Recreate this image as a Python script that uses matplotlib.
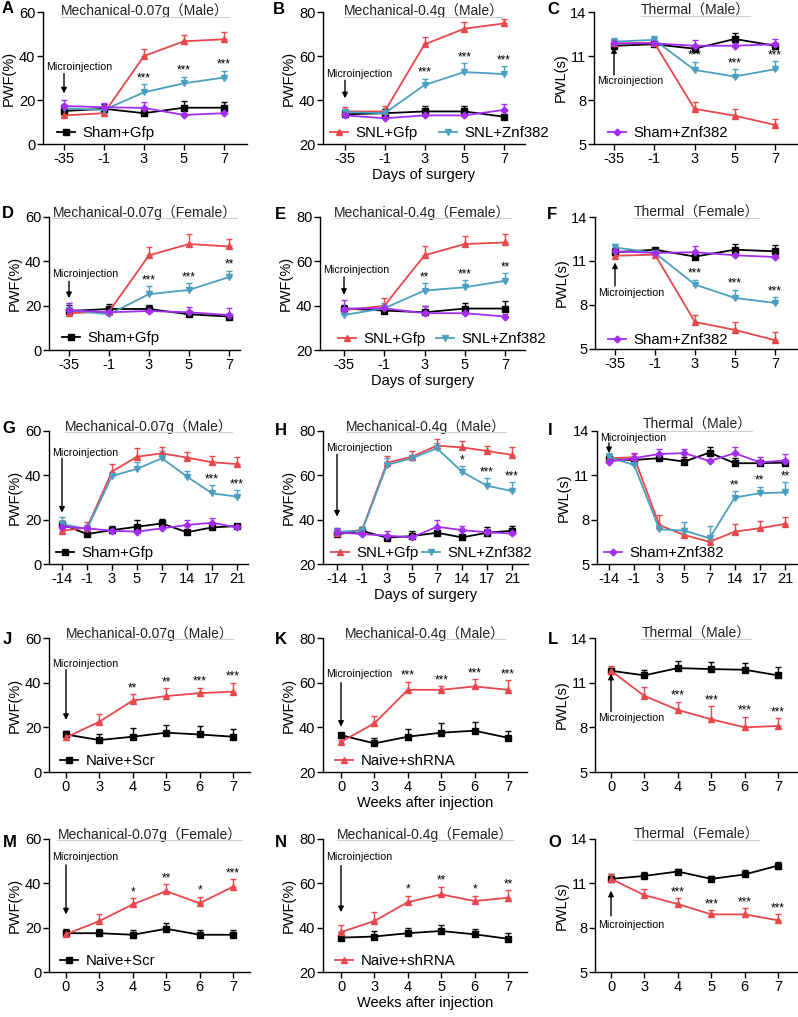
import matplotlib
matplotlib.use('Agg')
import numpy as np
import matplotlib.pyplot as plt
from matplotlib.lines import Line2D
from matplotlib.transforms import blended_transform_factory

plt.rcParams['font.family'] = ['Liberation Sans', 'Noto Sans CJK SC', 'DejaVu Sans']

# === データ ===
days_short = ['-35', '-1', '3', '5', '7']
days_long = ['-14', '-1', '3', '5', '7', '14', '17', '21']
weeks = ['0', '3', '4', '5', '6', '7']

# A  Mechanical-0.07g (Male)
A_sham_gfp = [15.0, 16.0, 14.0, 16.5, 16.5]
A_sham_gfp_err = [1.5, 2.0, 1.0, 3.2, 2.7]
A_snl_gfp = [13.0, 14.0, 40.0, 46.7, 47.6]
A_snl_gfp_err = [1.0, 1.0, 3.0, 3.0, 3.3]
A_snl_znf = [16.2, 15.5, 23.5, 27.6, 30.2]
A_snl_znf_err = [2.0, 2.0, 3.8, 3.0, 3.2]
A_sham_znf = [17.3, 16.7, 16.4, 13.2, 14.0]
A_sham_znf_err = [2.7, 2.0, 2.9, 1.0, 1.0]
A_stars = ['', '', '***', '***', '***']

# B  Mechanical-0.4g (Male)
B_sham_gfp = [33.5, 34.0, 34.8, 34.8, 32.4]
B_sham_gfp_err = [2.0, 2.0, 2.4, 2.7, 2.5]
B_snl_gfp = [34.8, 34.8, 65.3, 72.4, 74.8]
B_snl_gfp_err = [2.0, 2.7, 3.5, 2.9, 2.0]
B_snl_znf = [34.5, 34.0, 46.8, 52.7, 51.8]
B_snl_znf_err = [1.5, 2.4, 2.9, 4.2, 3.6]
B_sham_znf = [33.0, 31.7, 33.0, 33.0, 35.5]
B_sham_znf_err = [1.0, 1.0, 1.5, 1.5, 2.7]
B_stars = ['', '', '***', '***', '***']

# C  Thermal (Male)
C_sham_gfp = [11.7, 11.8, 11.5, 12.16, 11.7]
C_sham_gfp_err = [0.2, 0.15, 0.2, 0.43, 0.2]
C_snl_gfp = [11.86, 11.9, 7.4, 6.93, 6.3]
C_snl_gfp_err = [0.15, 0.15, 0.48, 0.48, 0.39]
C_snl_znf = [11.98, 12.1, 10.05, 9.6, 10.1]
C_snl_znf_err = [0.27, 0.27, 0.57, 0.5, 0.57]
C_sham_znf = [11.86, 11.86, 11.7, 11.7, 11.8]
C_sham_znf_err = [0.2, 0.15, 0.4, 0.2, 0.38]
C_stars = ['', '', '***', '***', '***']

# D  Mechanical-0.07g (Female)
D_sham_gfp = [17.6, 18.5, 18.5, 16.1, 15.1]
D_sham_gfp_err = [2.5, 2.4, 1.8, 1.0, 1.0]
D_snl_gfp = [16.6, 17.3, 42.7, 47.8, 46.7]
D_snl_gfp_err = [1.5, 1.5, 3.6, 4.5, 3.3]
D_snl_znf = [18.0, 16.1, 25.2, 27.1, 32.9]
D_snl_znf_err = [3.0, 1.0, 3.5, 3.0, 2.9]
D_sham_znf = [18.0, 17.0, 17.6, 17.0, 15.8]
D_sham_znf_err = [3.0, 2.0, 1.5, 2.6, 3.0]
D_stars = ['', '', '***', '***', '**']

# E  Mechanical-0.4g (Female)
E_sham_gfp = [38.7, 37.8, 37.0, 38.7, 38.7]
E_sham_gfp_err = [1.5, 1.5, 2.9, 2.4, 3.2]
E_snl_gfp = [38.0, 39.9, 62.7, 67.8, 68.5]
E_snl_gfp_err = [1.5, 3.5, 4.0, 3.5, 3.8]
E_snl_znf = [35.8, 38.8, 46.8, 48.3, 51.2]
E_snl_znf_err = [1.5, 2.5, 3.3, 3.3, 3.5]
E_sham_znf = [38.7, 38.8, 36.6, 36.6, 35.1]
E_sham_znf_err = [4.0, 1.5, 3.3, 1.5, 1.0]
E_stars = ['', '', '**', '***', '**']

# F  Thermal (Female)
F_sham_gfp = [11.6, 11.77, 11.3, 11.77, 11.66]
F_sham_gfp_err = [0.3, 0.15, 0.15, 0.4, 0.4]
F_snl_gfp = [11.36, 11.43, 6.84, 6.3, 5.6]
F_snl_gfp_err = [0.15, 0.15, 0.5, 0.57, 0.55]
F_snl_znf = [11.93, 11.55, 9.39, 8.48, 8.14]
F_snl_znf_err = [0.2, 0.15, 0.34, 0.57, 0.39]
F_sham_znf = [11.66, 11.55, 11.6, 11.39, 11.27]
F_sham_znf_err = [0.15, 0.15, 0.43, 0.15, 0.15]
F_stars = ['', '', '***', '***', '***']

# G  Mechanical-0.07g (Male), long course
G_sham_gfp = [18.0, 13.5, 15.3, 16.8, 18.3, 14.3, 16.5, 17.1]
G_sham_gfp_err = [1.5, 1.0, 1.8, 3.0, 1.8, 1.0, 1.5, 1.0]
G_snl_gfp = [15.0, 16.4, 41.7, 48.4, 49.9, 48.0, 45.9, 45.1]
G_snl_gfp_err = [1.0, 2.7, 3.3, 3.8, 3.0, 2.4, 3.0, 3.0]
G_snl_znf = [18.0, 15.8, 39.7, 42.9, 47.7, 39.4, 31.9, 30.4]
G_snl_znf_err = [3.0, 1.5, 1.0, 3.0, 3.3, 2.6, 3.8, 2.9]
G_sham_znf = [16.8, 16.1, 15.0, 14.6, 16.1, 17.6, 18.6, 16.5]
G_sham_znf_err = [1.5, 1.5, 1.5, 1.5, 1.5, 2.3, 2.0, 1.5]
G_stars = ['', '', '', '', '', '', '***', '***']

# H  Mechanical-0.4g (Male), long course
H_sham_gfp = [33.5, 34.9, 31.9, 32.6, 34.1, 32.0, 34.1, 35.0]
H_sham_gfp_err = [1.0, 2.0, 1.0, 2.3, 1.0, 1.0, 2.4, 2.3]
H_snl_gfp = [34.1, 35.3, 65.7, 68.4, 73.4, 72.6, 71.0, 69.2]
H_snl_gfp_err = [1.5, 1.5, 3.2, 2.6, 2.9, 2.9, 2.4, 3.8]
H_snl_znf = [34.6, 34.9, 64.7, 67.7, 72.2, 61.6, 55.3, 52.9]
H_snl_znf_err = [1.5, 2.0, 3.0, 1.5, 2.6, 2.7, 3.6, 3.9]
H_sham_znf = [34.3, 33.5, 32.8, 32.0, 36.8, 35.3, 34.3, 33.8]
H_sham_znf_err = [2.1, 1.5, 2.3, 1.5, 3.0, 2.0, 1.5, 1.5]
H_stars = ['', '', '', '', '', '*', '***', '***']

# I  Thermal (Male), long course
I_sham_gfp = [12.09, 12.04, 12.16, 11.93, 12.54, 11.82, 11.82, 11.86]
I_sham_gfp_err = [0.2, 0.2, 0.15, 0.34, 0.4, 0.34, 0.15, 0.2]
I_snl_gfp = [12.16, 12.22, 7.64, 6.96, 6.5, 7.19, 7.42, 7.71]
I_snl_gfp_err = [0.2, 0.2, 0.68, 0.5, 0.15, 0.5, 0.5, 0.5]
I_snl_znf = [12.22, 11.7, 7.35, 7.26, 6.74, 9.5, 9.79, 9.85]
I_snl_znf_err = [0.27, 0.2, 0.3, 0.56, 0.86, 0.45, 0.45, 0.68]
I_sham_znf = [11.93, 12.16, 12.45, 12.5, 11.97, 12.5, 11.88, 12.0]
I_sham_znf_err = [0.15, 0.34, 0.32, 0.27, 0.15, 0.45, 0.38, 0.43]
I_stars = ['', '', '', '', '', '**', '**', '**']

# J-L  Male, shRNA
J_naive_scr = [16.8, 14.3, 15.8, 17.6, 16.8, 15.8]
J_naive_scr_err = [1.7, 2.7, 3.8, 3.4, 3.9, 3.5]
J_naive_sh = [15.5, 22.5, 32.0, 34.0, 35.3, 36.0]
J_naive_sh_err = [1.5, 3.3, 3.0, 3.5, 2.5, 4.0]
J_stars = ['', '', '**', '**', '***', '***']

K_naive_scr = [36.5, 32.8, 35.8, 37.6, 38.5, 35.3]
K_naive_scr_err = [1.0, 2.5, 3.3, 4.2, 3.8, 3.0]
K_naive_sh = [33.5, 41.8, 56.8, 56.8, 58.3, 56.8]
K_naive_sh_err = [1.0, 3.3, 3.7, 1.8, 3.3, 4.2]
K_stars = ['', '', '***', '***', '***', '***']

L_naive_scr = [11.8, 11.49, 11.98, 11.91, 11.87, 11.49]
L_naive_scr_err = [0.2, 0.38, 0.45, 0.5, 0.45, 0.54]
L_naive_sh = [11.8, 10.11, 9.17, 8.54, 8.0, 8.09]
L_naive_sh_err = [0.34, 0.58, 0.56, 0.86, 0.72, 0.52]
L_stars = ['', '', '***', '***', '***', '***']

# M-O  Female, shRNA
M_naive_scr = [17.5, 17.5, 16.8, 19.5, 16.8, 16.8]
M_naive_scr_err = [2.0, 2.0, 2.2, 2.5, 2.2, 2.2]
M_naive_sh = [17.0, 23.0, 30.5, 36.5, 31.0, 38.5]
M_naive_sh_err = [1.5, 3.0, 3.0, 3.0, 3.0, 3.5]
M_stars = ['', '', '*', '**', '*', '***']

N_naive_scr = [35.5, 36.0, 37.5, 38.5, 37.0, 35.0]
N_naive_scr_err = [2.5, 2.5, 2.5, 2.5, 2.5, 2.5]
N_naive_sh = [38.0, 43.0, 51.5, 55.0, 52.0, 53.5]
N_naive_sh_err = [3.0, 4.0, 3.0, 3.5, 2.5, 3.5]
N_stars = ['', '', '*', '**', '*', '**']

O_naive_scr = [11.3, 11.5, 11.8, 11.3, 11.6, 12.2]
O_naive_scr_err = [0.3, 0.3, 0.2, 0.2, 0.3, 0.25]
O_naive_sh = [11.3, 10.2, 9.6, 8.9, 8.9, 8.5]
O_naive_sh_err = [0.3, 0.4, 0.4, 0.3, 0.4, 0.4]
O_stars = ['', '', '***', '***', '***', '***']

# === スタイル ===
RED, BLUE, PURPLE = '#e8474c', '#4c9fbf', '#a22ff0'
STYLE = {
    'sham_gfp': ('Sham+Gfp', 'black', 's', 4.5),
    'snl_gfp': ('SNL+Gfp', RED, '^', 5),
    'snl_znf': ('SNL+Znf382', BLUE, 'v', 5),
    'sham_znf': ('Sham+Znf382', PURPLE, 'D', 3.5),
    'naive_scr': ('Naive+Scr', 'black', 's', 5),
    'naive_sh': ('Naive+shRNA', RED, '^', 5),
}

mech07 = ('PWF(%)', (0, 60), [0, 20, 40, 60])
mech04 = ('PWF(%)', (20, 80), [20, 40, 60, 80])
therm = ('PWL(s)', (5, 14), [5, 8, 11, 14])

def four(p):
    g = globals()
    return [(k, g[f'{p}_{k}'], g[f'{p}_{k}_err']) for k in ['sham_gfp', 'snl_gfp', 'snl_znf', 'sham_znf']]

def two(p):
    g = globals()
    return [(k, g[f'{p}_{k}'], g[f'{p}_{k}_err']) for k in ['naive_scr', 'naive_sh']]

# letter, title, ticks, axis, series, stars-ref, stars, box(x0,t0,t1,x1,top,bottom),
# microinjection (text_y, tail, tip), legend keys, legend offset px, colspacing, xlabel
panels = [
    ('A', 'Mechanical-0.07g（Male）', days_short, mech07, four('A'), 'snl_znf', A_stars,
     (43, 64, 224, 247, 12, 144), (35, 32, 23), ['sham_gfp'], (14, 11), 1, None),
    ('B', 'Mechanical-0.4g（Male）', days_short, mech04, four('B'), 'snl_znf', B_stars,
     (323, 345, 504, 525, 12, 144), (51.8, 49, 40.8), ['snl_gfp', 'snl_znf'], (7, 11), 1.4, 'Days of surgery'),
    ('C', 'Thermal（Male）', days_short, therm, four('C'), 'snl_znf', C_stars,
     (594, 614, 775, 797, 12, 144), (9.3, 9.7, 11.6), ['sham_znf'], (14, 11), 1, None),
    ('D', 'Mechanical-0.07g（Female）', days_short, mech07, four('D'), 'snl_znf', D_stars,
     (49, 69, 229, 240, 217, 350), (34.4, 31, 23.4), ['sham_gfp'], (13, 12), 1, None),
    ('E', 'Mechanical-0.4g（Female）', days_short, mech04, four('E'), 'snl_znf', E_stars,
     (320, 344, 505, 525, 217, 350), (55.9, 53, 44.9), ['snl_gfp', 'snl_znf'], (18, 11), 0.7, 'Days of surgery'),
    ('F', 'Thermal（Female）', days_short, therm, four('F'), 'snl_znf', F_stars,
     (595, 615, 775, 797, 217, 349), (8.8, 9.3, 10.9), ['sham_znf'], (13, 9), 1, None),
    ('G', 'Mechanical-0.07g（Male）', days_long, mech07, four('G'), 'snl_znf', G_stars,
     (49, 62, 237, 248, 431, 564), (50.2, 47.7, 23.2), ['sham_gfp'], (7, 11), 1, None),
    ('H', 'Mechanical-0.4g（Male）', days_long, mech04, four('H'), 'snl_znf', H_stars,
     (323, 337, 512, 528, 431, 564), (72.5, 69.5, 41.4), ['snl_gfp', 'snl_znf'], (8, 11), 0.2, 'Days of surgery'),
    ('I', 'Thermal（Male）', days_long, therm, four('I'), 'snl_znf', I_stars,
     (597, 609, 785, 797, 431, 564), (13.5, 13.2, 12.5), ['sham_znf'], (7, 11), 1, None),
    ('J', 'Mechanical-0.07g（Male）', weeks, mech07, two('J'), 'naive_sh', J_stars,
     (49, 66, 233, 250, 638, 772), (48.3, 45.8, 23.3), ['naive_scr'], (11, 11), 1, None),
    ('K', 'Mechanical-0.4g（Male）', weeks, mech04, two('K'), 'naive_sh', K_stars,
     (323, 341, 508, 527, 638, 772), (63.8, 60, 40.3), ['naive_sh'], (12, 11), 1, 'Weeks after injection'),
    ('L', 'Thermal（Male）', weeks, therm, two('L'), 'naive_sh', L_stars,
     (595, 611, 778, 797, 638, 772), (8.6, 9.05, 11.6), [], (0, 0), 1, None),
    ('M', 'Mechanical-0.07g（Female）', weeks, mech07, two('M'), 'naive_sh', M_stars,
     (49, 66, 233, 250, 839, 972), (51.9, 48.3, 26), ['naive_scr'], (11, 11), 1, None),
    ('N', 'Mechanical-0.4g（Female）', weeks, mech04, two('N'), 'naive_sh', N_stars,
     (323, 341, 508, 527, 839, 972), (71.9, 68, 47), ['naive_sh'], (12, 11), 1, 'Weeks after injection'),
    ('O', 'Thermal（Female）', weeks, therm, two('O'), 'naive_sh', O_stars,
     (595, 611, 778, 797, 839, 972), (8.2, 8.8, 10.5), [], (0, 0), 1, None),
]

letter_pos = {'A': (2, 1), 'B': (273, 2), 'C': (547, 2), 'D': (2, 206), 'E': (275, 207),
              'F': (547, 207), 'G': (2, 421), 'H': (275, 423), 'I': (548, 423),
              'J': (3, 632), 'K': (275, 632), 'L': (548, 632), 'M': (3, 835),
              'N': (275, 835), 'O': (548, 835)}

W, H = 798, 1017
fig = plt.figure(figsize=(W / 100, H / 100), dpi=100)
titles = []

for (letter, title, ticks, axis, series, ref, stars, box, micro, leg, legoff, colsp, xlabel) in panels:
    x0, t0, t1, x1, top, bot = box
    ax = fig.add_axes([x0 / W, 1 - bot / H, (x1 - x0) / W, (bot - top) / H])
    n = len(ticks)
    s = (t1 - t0) / (n - 1)
    ax.set_xlim(-(t0 - x0) / s, (n - 1) + (x1 - t1) / s)
    ylab, ylim, yt = axis
    ax.set_ylim(*ylim)
    ax.set_yticks(yt)
    ax.set_xticks(range(n))
    ax.set_xticklabels(ticks)
    ax.set_ylabel(ylab, fontsize=10.5, labelpad=2)
    if xlabel:
        ax.set_xlabel(xlabel, fontsize=10.5, labelpad=2)
    for sp in ['top', 'right']:
        ax.spines[sp].set_visible(False)
    for sp in ['left', 'bottom']:
        ax.spines[sp].set_linewidth(1.0)
    ax.tick_params(axis='both', direction='out', length=4, width=1.0, labelsize=10.5, pad=1.5)

    x = np.arange(n)
    ref_vals = None
    for key, vals, err in series:
        lab, col, mk, ms = STYLE[key]
        vals = np.array(vals); err = np.array(err)
        ax.errorbar(x, vals, yerr=[np.zeros(n), err], color=col, marker=mk, ms=ms,
                    lw=1.3, elinewidth=1.0, capsize=2.5, capthick=1.0, clip_on=False)
        if key == ref:
            ref_vals = vals + err

    for i, st in enumerate(stars):
        if st:
            ax.annotate(st, (i, ref_vals[i]), xytext=(0, 2), textcoords='offset points',
                        ha='center', va='baseline', fontsize=8.5)

    # Microinjection 矢印
    ty, tail, tip = micro
    trans = blended_transform_factory(ax.transAxes, ax.transData)
    ax.text(3.5 / (x1 - x0), ty, 'Microinjection', transform=trans, ha='left', va='center', fontsize=7.7)
    ax.annotate('', xy=(0, tip), xytext=(0, tail),
                arrowprops=dict(arrowstyle='-|>', lw=1.0, color='black', mutation_scale=8,
                                shrinkA=0, shrinkB=0))

    if leg:
        handles = [Line2D([], [], color=STYLE[k][1], marker=STYLE[k][2], ms=STYLE[k][3], lw=1.3) for k in leg]
        labels = [STYLE[k][0] for k in leg]
        ax.legend(handles, labels, loc='center left',
                  bbox_to_anchor=(legoff[0] / (x1 - x0), legoff[1] / (bot - top)),
                  frameon=False, handlelength=1.2, handletextpad=0.5, borderaxespad=0,
                  borderpad=0, ncol=len(leg), columnspacing=colsp, fontsize=10.8)

    dy = 1.3 if top < 50 else (6 if letter == 'I' else 4.5)
    t = ax.annotate(title, (0.5, 1.0), xycoords='axes fraction', xytext=(0, dy),
                    textcoords='offset pixels', ha='center', va='center',
                    fontsize=10, color='#222222')
    titles.append(t)
    lx, ly = letter_pos[letter]
    fig.text(lx / W, 1 - ly / H, letter, ha='left', va='top', fontsize=12, fontweight='bold')

# タイトル下の薄い線
fig.canvas.draw()
r = fig.canvas.get_renderer()
for t in titles:
    bb = t.get_window_extent(r)
    yline = (bb.y0 + 1.5) / H
    fig.add_artist(Line2D([bb.x0 / W, bb.x1 / W], [yline, yline], color='#cfcfcf', lw=0.8))

fig.savefig('out.png', dpi=100)
